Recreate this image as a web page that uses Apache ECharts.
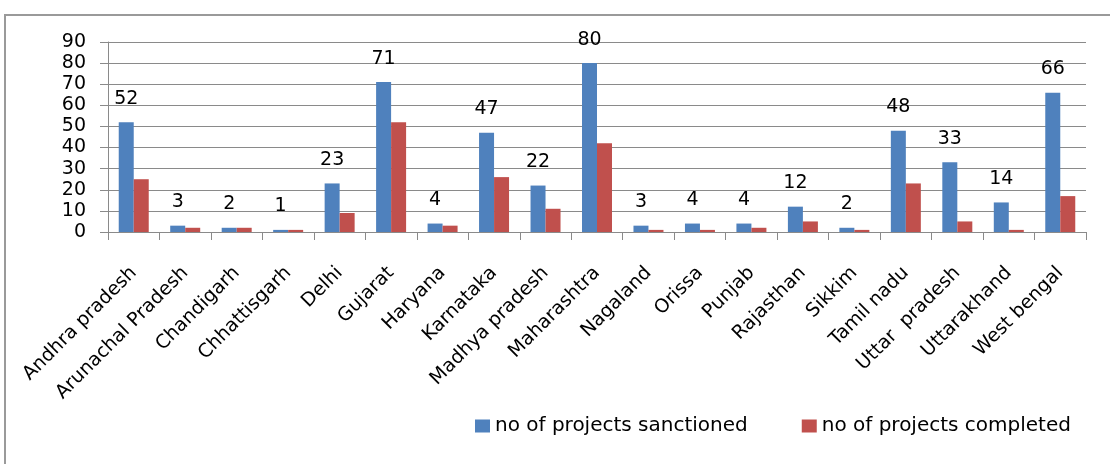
<!DOCTYPE html>
<html>
<head>
<meta charset="utf-8">
<title>Projects sanctioned and completed by state</title>
<script src="https://cdn.jsdelivr.net/npm/echarts@6/dist/echarts.min.js"></script>
<style>
  html, body { margin: 0; padding: 0; background: #ffffff; }
  #chart { width: 1110px; height: 464px; }
</style>
</head>
<body>
<div id="chart"></div>
<script>
// States along the category axis
const states = [
  'Andhra pradesh', 'Arunachal Pradesh', 'Chandigarh', 'Chhattisgarh', 'Delhi',
  'Gujarat', 'Haryana', 'Karnataka', 'Madhya pradesh', 'Maharashtra',
  'Nagaland', 'Orissa', 'Punjab', 'Rajasthan', 'Sikkim',
  'Tamil nadu', 'Uttar  pradesh', 'Uttarakhand', 'West bengal'
];

// Projects sanctioned per state (labelled series)
const sanctioned = [52, 3, 2, 1, 23, 71, 4, 47, 22, 80, 3, 4, 4, 12, 2, 48, 33, 14, 66];

// Projects completed per state
const completed = [25, 2, 2, 1, 9, 52, 3, 26, 11, 42, 1, 1, 2, 5, 1, 23, 5, 1, 17];

// Value axis ticks
const yTicks = [0, 10, 20, 30, 40, 50, 60, 70, 80, 90];

const FONT = 'DejaVu Sans';
const GRID_GRAY = '#8a8a8a';

const chart = echarts.init(document.getElementById('chart'), null, { renderer: 'canvas' });

chart.setOption({
  backgroundColor: '#ffffff',
  animation: false,
  textStyle: { fontFamily: FONT, color: '#000000' },
  graphic: [{
    type: 'rect',
    shape: { x: 5, y: 15, width: 1130, height: 470 },
    style: { fill: null, stroke: '#9a9a9a', lineWidth: 2 },
    silent: true
  }],
  grid: { left: 108, right: 24, top: 42, bottom: 232, containLabel: false },
  legend: {
    left: 470,
    top: 411,
    itemWidth: 15,
    itemHeight: 13,
    itemGap: 54,
    icon: 'rect',
    textStyle: { fontFamily: FONT, fontSize: 20, color: '#000000' },
    data: ['no of projects sanctioned', 'no of projects completed']
  },
  xAxis: {
    type: 'category',
    data: states,
    boundaryGap: true,
    axisLine: { show: true, lineStyle: { color: GRID_GRAY, width: 1 } },
    axisTick: { show: true, length: 8, alignWithLabel: false, lineStyle: { color: GRID_GRAY } },
    axisLabel: {
      interval: 0,
      rotate: 45,
      margin: 38,
      fontFamily: FONT,
      fontSize: 19,
      color: '#000000'
    },
    splitLine: { show: false }
  },
  yAxis: {
    type: 'value',
    min: yTicks[0],
    max: yTicks[yTicks.length - 1],
    interval: yTicks[1] - yTicks[0],
    axisLine: { show: true, lineStyle: { color: GRID_GRAY, width: 1 } },
    axisTick: { show: true, length: 8, inside: false, lineStyle: { color: GRID_GRAY } },
    axisLabel: {
      margin: 22,
      fontFamily: FONT,
      fontSize: 19,
      color: '#000000',
      formatter: v => String(v)
    },
    splitLine: { show: true, lineStyle: { color: GRID_GRAY, width: 1 } }
  },
  series: [
    {
      name: 'no of projects sanctioned',
      type: 'bar',
      data: sanctioned,
      barWidth: 15,
      barGap: '0%',
      itemStyle: { color: '#4f81bd' },
      label: {
        show: true,
        position: 'top',
        distance: 14,
        fontFamily: FONT,
        fontSize: 19,
        color: '#000000'
      }
    },
    {
      name: 'no of projects completed',
      type: 'bar',
      data: completed,
      barWidth: 15,
      barGap: '0%',
      itemStyle: { color: '#c0504d' }
    }
  ]
});
</script>
</body>
</html>
